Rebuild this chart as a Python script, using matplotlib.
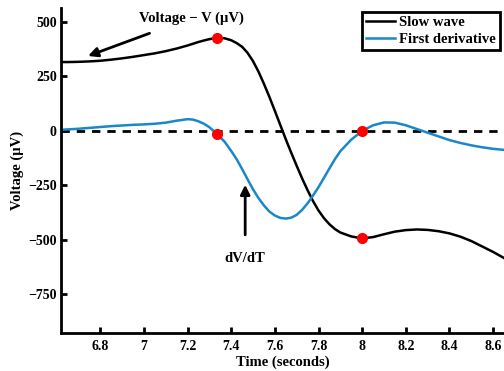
import matplotlib
matplotlib.use("Agg")
import matplotlib.pyplot as plt

plt.rcParams['font.family'] = ['Liberation Serif', 'DejaVu Serif']
plt.rcParams['font.weight'] = 'bold'

t = [6.62, 6.65, 6.7, 6.75, 6.8, 6.85, 6.9, 6.95, 7.0, 7.05, 7.1, 7.15, 7.2, 7.225, 7.25, 7.275,
     7.3, 7.335, 7.37, 7.4, 7.425, 7.45, 7.475, 7.5, 7.525, 7.55, 7.575, 7.6, 7.625, 7.65, 7.675,
     7.7, 7.725, 7.75, 7.775, 7.8, 7.825, 7.85, 7.875, 7.9, 7.95, 8.0, 8.05, 8.1,
     8.15, 8.2, 8.25, 8.3, 8.35, 8.4, 8.45, 8.5, 8.55, 8.6, 8.65]
slow_wave = [316, 316, 317, 319, 322, 327, 333, 340, 348, 356, 366, 378, 392, 400, 408, 415,
             421, 428, 425, 416, 403, 386, 358, 320, 272, 216, 156, 92, 27, -38, -100,
             -160, -218, -272, -322, -365, -400, -428, -450, -466, -484, -493, -487, -474,
             -462, -455, -452, -454, -460, -470, -485, -505, -530, -555, -583]
derivative = [5, 7, 10, 14, 18, 22, 25, 28, 30, 33, 38, 47, 54, 52, 44, 33,
              17, -14, -50, -92, -130, -175, -222, -268, -308, -342, -370, -388, -399, -402, -398,
              -385, -362, -332, -296, -258, -215, -172, -130, -93, -40, 0, 26, 39,
              38, 26, 9, -8, -25, -42, -55, -66, -75, -82, -87]
marker_t = [7.335, 7.335, 8.0, 8.0]
marker_v = [428, -14, 0, -493]

xticks = [6.8, 7.0, 7.2, 7.4, 7.6, 7.8, 8.0, 8.2, 8.4, 8.6]
xtick_labels = ['6.8', '7', '7.2', '7.4', '7.6', '7.8', '8', '8.2', '8.4', '8.6']
yticks = [-750, -500, -250, 0, 250, 500]
ytick_labels = ['\u2212750', '\u2212500', '\u2212250', '0', '250', '500']

fig = plt.figure(figsize=(5.04, 3.71), dpi=100)
ax = fig.add_axes([61/504, 38/371, 443/504, 325/371])

ax.axhline(0, color='k', lw=2, ls=(0, (3, 2.5)), zorder=1)
ax.plot(t, slow_wave, color='k', lw=1.8, label='Slow wave', zorder=2)
ax.plot(t, derivative, color='#1a87c8', lw=1.8, label='First derivative', zorder=2)
ax.plot(marker_t, marker_v, 'o', color='red', ms=7, mec='red', zorder=3)

ax.set_xlim(6.62, 8.65)
ax.set_ylim(-927, 564)
ax.set_xticks(xticks)
ax.set_xticklabels(xtick_labels, fontsize=10, fontweight='bold')
ax.set_yticks(yticks)
ax.set_yticklabels(ytick_labels, fontsize=10, fontweight='bold')
ax.tick_params(axis='both', direction='in', length=4, width=2, pad=3)
ax.tick_params(axis='x', pad=5)
for s in ['top', 'right']:
    ax.spines[s].set_visible(False)
for s in ['left', 'bottom']:
    ax.spines[s].set_linewidth(2)

ax.set_xlabel('Time (seconds)', fontsize=10.5, fontweight='bold', labelpad=2)
ax.set_ylabel('Voltage (\u00b5V)', fontsize=10.5, fontweight='bold', labelpad=3)

ax.annotate('Voltage \u2212 V (\u00b5V)', xy=(6.744, 344), xytext=(7.216, 518),
            ha='center', va='center', fontsize=10.5, fontweight='bold',
            arrowprops=dict(arrowstyle='-|>', color='k', lw=2, mutation_scale=14,
                            shrinkA=12, shrinkB=0))
ax.annotate('dV/dT', xy=(7.464, -247), xytext=(7.464, -583),
            ha='center', va='center', fontsize=10.5, fontweight='bold',
            arrowprops=dict(arrowstyle='-|>', color='k', lw=2, mutation_scale=14,
                            shrinkA=10, shrinkB=0))

leg = ax.legend(loc='upper right', bbox_to_anchor=(0.991, 0.988),
                prop={'weight': 'bold', 'size': 10.5}, frameon=True, fancybox=False,
                handlelength=2.0, borderpad=0.3, labelspacing=0.22, handletextpad=0.25,
                borderaxespad=0)
leg.get_frame().set_edgecolor('k')
leg.get_frame().set_linewidth(2)
leg.get_frame().set_alpha(1)

fig.savefig('out.png', dpi=100)
